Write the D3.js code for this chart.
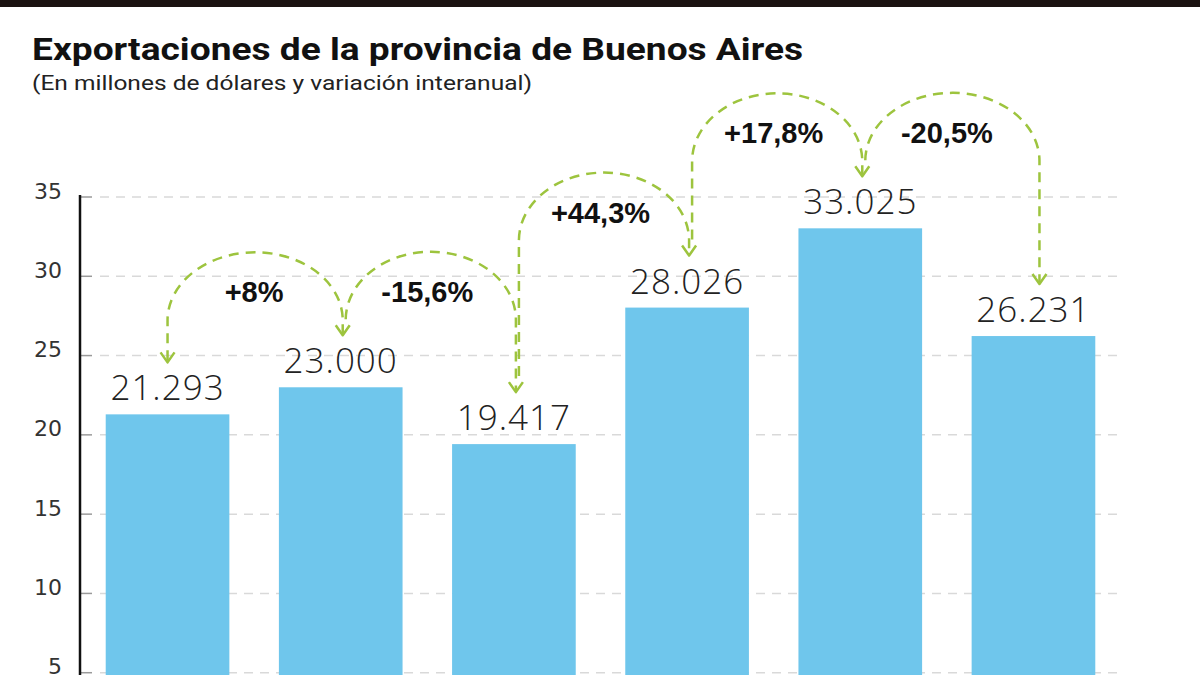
<!DOCTYPE html>
<html><head><meta charset="utf-8">
<script src="https://cdn.jsdelivr.net/npm/d3@7"></script>
<style>html,body{margin:0;padding:0;background:#fff;overflow:hidden}</style>
</head><body>
<svg id="c" width="1200" height="675"></svg>
<script>
const years = ["2018","2019","2020","2021","2022","2023"];
const exportsMillions = [21293, 23000, 19417, 28026, 33025, 26231];
const valueLabels = ["21.293","23.000","19.417","28.026","33.025","26.231"];
const changeLabels = ["+8%","-15,6%","+44,3%","+17,8%","-20,5%"];
const yTicks = [0,5,10,15,20,25,30,35];

const svg = d3.select("#c");
const W = 1200, H = 675;
const BLUE = "#6fc6ec", GREEN = "#9dc43e";

svg.append("rect").attr("x",0).attr("y",0).attr("width",W).attr("height",7).attr("fill","#1b1311");

svg.append("text").attr("x",32).attr("y",60)
  .style("font-family","Roboto").style("font-weight",700).style("font-size","31px")
  .attr("fill","#111").attr("textLength",771).attr("lengthAdjust","spacingAndGlyphs")
  .text("Exportaciones de la provincia de Buenos Aires");
svg.append("text").attr("x",32).attr("y",90)
  .style("font-family","Roboto").style("font-size","21px").attr("fill","#222")
  .attr("textLength",500).attr("lengthAdjust","spacingAndGlyphs")
  .text("(En millones de dólares y variación interanual)");

const y = d3.scaleLinear().domain([0,35]).range([752,197]);
const x = d3.scaleBand().domain(years).range([78,1123]).paddingInner(0.286).paddingOuter(0.16);

// gridlines
const grid = svg.append("g");
yTicks.filter(t=>t>0).forEach(t=>{
  grid.append("line").attr("x1",100).attr("x2",1123).attr("y1",y(t)).attr("y2",y(t))
    .attr("stroke","#d9d9d9").attr("stroke-width",1.5).attr("stroke-dasharray","9,7");
  grid.append("line").attr("x1",81).attr("x2",92).attr("y1",y(t)).attr("y2",y(t))
    .attr("stroke","#9a9a9a").attr("stroke-width",1.5);
});

// axis
const axis = d3.axisLeft(y).tickValues(yTicks.filter(t=>t>0)).tickSize(0).tickPadding(18);
const ag = svg.append("g").attr("transform","translate(80,0)").call(axis);
ag.attr("font-size",null).attr("font-family",null);
ag.select(".domain").attr("stroke","#111").attr("stroke-width",2.5).attr("d","M0,195V760");
ag.selectAll("text").style("font-family","DejaVu Sans").style("font-size","22px")
  .attr("fill","#333").attr("dy","0").attr("y",1);

// bars
svg.append("g").selectAll("rect").data(exportsMillions).join("rect")
  .attr("x",(d,i)=>x(years[i])).attr("width",x.bandwidth())
  .attr("y",d=>y(d/1000)).attr("height",d=>y(0)-y(d/1000)).attr("fill",BLUE);

// value labels
svg.append("g").selectAll("text").data(exportsMillions).join("text")
  .attr("x",(d,i)=>x(years[i])+x.bandwidth()/2).attr("y",d=>y(d/1000)-14)
  .attr("text-anchor","middle").style("font-family","Open Sans").style("font-weight",300)
  .style("font-size","35px").style("letter-spacing","1px").attr("fill","#222").text((d,i)=>valueLabels[i]);

// arrows
const cx = i => x(years[i]) + x.bandwidth()/2;
const tipY = i => y(exportsMillions[i]/1000) - 52;
const ry = 68;
const ag2 = svg.append("g");
function head(px, py){
  ag2.append("path").attr("d",`M${px-7},${py-10}L${px},${py}L${px+7},${py-10}`)
    .attr("fill","none").attr("stroke",GREEN).attr("stroke-width",2.5).attr("stroke-linejoin","round");
}
changeLabels.forEach((lab,i)=>{
  const x1 = i===0 ? cx(i) : cx(i)+5;
  const y1 = i===0 ? tipY(i) - 2 : tipY(i) - 16;
  const x2 = cx(i+1)+ (i===4 ? 6 : 2);
  const y2 = tipY(i+1) - 2;
  const peak = Math.min(tipY(i), tipY(i+1)) - 83;
  const yc = peak + ry;
  const rx = (x2-x1)/2;
  const p = `M${x1},${y1}L${x1},${Math.min(y1,yc)}A${rx},${ry} 0 0 1 ${x2},${yc}L${x2},${y2}`;
  ag2.append("path").attr("d",p).attr("fill","none").attr("stroke",GREEN)
    .attr("stroke-width",2.5).attr("stroke-dasharray","10,7");
  head(x2, y2+2);
  if(i===0) head(x1, y1+2);
  svg.append("text").attr("x",(cx(i)+cx(i+1))/2).attr("y",peak+50)
    .attr("text-anchor","middle").style("font-family","Liberation Sans").style("font-weight",700)
    .style("font-size","29px").attr("fill","#111").text(lab);
});
</script>
</body></html>
